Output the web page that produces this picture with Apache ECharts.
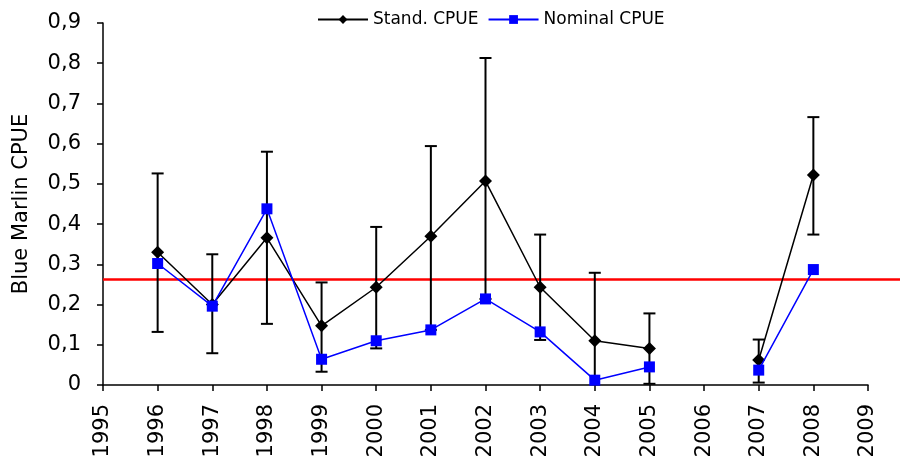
<!DOCTYPE html>
<html><head><meta charset="utf-8">
<script src="https://cdn.jsdelivr.net/npm/echarts@6/dist/echarts.min.js"></script>
<style>html,body{margin:0;padding:0;background:#fff}#c{width:900px;height:470px}</style>
</head><body><div id="c"></div>
<script>
const years = [1996, 1997, 1998, 1999, 2000, 2001, 2002, 2003, 2004, 2005, 2006, 2007, 2008];
const standCPUE = [0.330, 0.200, 0.366, 0.147, 0.243, 0.370, 0.507, 0.243, 0.110, 0.091, null, 0.062, 0.522];
const nominalCPUE = [0.302, 0.196, 0.438, 0.064, 0.110, 0.137, 0.214, 0.132, 0.012, 0.045, null, 0.037, 0.287];
const errUpper = [0.526, 0.325, 0.580, 0.255, 0.393, 0.594, 0.813, 0.374, 0.279, 0.178, null, 0.113, 0.666];
const errLower = [0.132, 0.079, 0.152, 0.033, 0.091, 0.137, 0.214, 0.112, -0.02, 0.003, null, 0.006, 0.374];
const refLine = 0.262;
const refLineX = [1995, 2009.6];
const yTicks = [0, 0.1, 0.2, 0.3, 0.4, 0.5, 0.6, 0.7, 0.8, 0.9];

const font = '"DejaVu Sans", sans-serif';
const toPairs = arr => years.map((y, i) => [y, arr[i] == null ? '-' : arr[i]]);
const errData = years.map((y, i) => [y, errLower[i], errUpper[i]]).filter(d => d[1] != null);

const chart = echarts.init(document.getElementById('c'), null, {renderer: 'canvas'});
chart.setOption({
  animation: false,
  backgroundColor: '#fff',
  grid: [
    {left: 103, right: 32, top: 23, bottom: 85},
    {left: 103, right: 0, top: 23, bottom: 85}
  ],
  legend: {
    top: 6, left: 312,
    itemWidth: 50, itemHeight: 11, itemGap: 9,
    textStyle: {fontFamily: font, fontSize: 17, color: '#000'},
    data: ['Stand. CPUE', 'Nominal CPUE']
  },
  xAxis: [{
    type: 'value', min: 1995, max: 2009, interval: 1, gridIndex: 0,
    axisLine: {lineStyle: {color: '#000', width: 1.5}},
    axisTick: {inside: false, length: 6, lineStyle: {color: '#000', width: 1.5}},
    axisLabel: {rotate: 90, fontFamily: font, fontSize: 21, color: '#000', margin: 19, formatter: v => String(v)},
    splitLine: {show: false}
  }, {
    type: 'value', min: refLineX[0], max: refLineX[1], gridIndex: 1, show: false
  }],
  yAxis: [{
    type: 'value', min: 0, max: 0.9, interval: 0.1, gridIndex: 0,
    name: 'Blue Marlin CPUE', nameLocation: 'middle', nameGap: 71, nameRotate: 90,
    nameTextStyle: {fontFamily: font, fontSize: 21, color: '#000'},
    axisLine: {show: true, lineStyle: {color: '#000', width: 1.5}},
    axisTick: {show: true, inside: false, length: 6, lineStyle: {color: '#000', width: 1.5}},
    axisLabel: {fontFamily: font, fontSize: 21, color: '#000', margin: 22,
      formatter: v => {const t = yTicks.find(k => Math.abs(k - v) < 1e-9); return (t === 0 ? '0' : (t != null ? t.toFixed(1) : v.toFixed(1))).replace('.', ',');}},
    splitLine: {show: false}
  }, {
    type: 'value', min: 0, max: 0.9, gridIndex: 1, show: false
  }],
  series: [
    {
      type: 'line', name: 'ref', silent: true, z: 2, xAxisIndex: 1, yAxisIndex: 1,
      data: refLineX.map(x => [x, refLine]),
      symbol: 'none', lineStyle: {color: '#FF0000', width: 2.5}, itemStyle: {color: '#FF0000'}
    },
    {
      type: 'custom', name: 'err', silent: true, z: 3,
      data: errData,
      clip: true,
      renderItem: (params, api) => {
        const x = api.value(0);
        const lo = api.coord([x, api.value(1)]);
        const hi = api.coord([x, api.value(2)]);
        const cap = 6;
        const style = {stroke: '#000', lineWidth: 2};
        return {type: 'group', children: [
          {type: 'line', shape: {x1: lo[0], y1: lo[1], x2: hi[0], y2: hi[1]}, style},
          {type: 'line', shape: {x1: hi[0] - cap, y1: hi[1], x2: hi[0] + cap, y2: hi[1]}, style},
          {type: 'line', shape: {x1: lo[0] - cap, y1: lo[1], x2: lo[0] + cap, y2: lo[1]}, style}
        ]};
      }
    },
    {
      type: 'line', name: 'Stand. CPUE', data: toPairs(standCPUE), connectNulls: false, z: 4,
      symbol: 'diamond', symbolSize: 13, showAllSymbol: true,
      lineStyle: {color: '#000', width: 1.5}, itemStyle: {color: '#000'}
    },
    {
      type: 'line', name: 'Nominal CPUE', data: toPairs(nominalCPUE), connectNulls: false, z: 5,
      symbol: 'rect', symbolSize: 11, showAllSymbol: true,
      lineStyle: {color: '#0000FF', width: 1.5}, itemStyle: {color: '#0000FF'}
    }
  ]
});
</script></body></html>
